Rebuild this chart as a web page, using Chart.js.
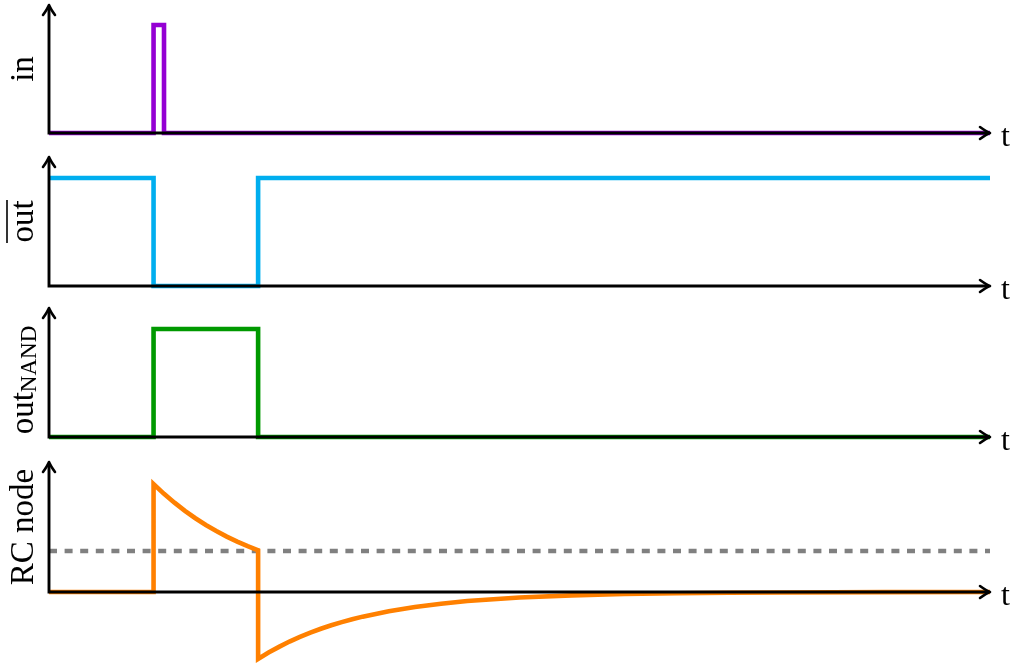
<!DOCTYPE html>
<html><head><meta charset="utf-8">
<script src="https://cdn.jsdelivr.net/npm/chart.js@4.4.0/dist/chart.umd.min.js"></script>
<style>
html,body{margin:0;padding:0;background:#fff;}
#wrap{position:relative;width:1018px;height:663px;}
canvas{position:absolute;left:0;top:0;}
</style>
</head><body><div id="wrap"></div>
<script>
// ---- data (time in arbitrary units 0..9) ----
const tMax = 9;
const tIn   = [0, 1, 1, 1.1, 1.1, 9];
const vIn   = [0, 0, 1, 1,   0,   0];
const tOut  = [0, 1, 1, 2, 2, 9];
const vOutBar = [1, 1, 0, 0, 1, 1];
const vNand   = [0, 0, 1, 1, 0, 0];
const tRC = [0, 1, 1, 1.1, 1.2, 1.3, 1.4, 1.5, 1.6, 1.7, 1.8, 1.9, 2, 2,
             2.1, 2.2, 2.3, 2.4, 2.5, 2.6, 2.7, 2.8, 2.9, 3, 3.25, 3.5, 3.75, 4,
             4.5, 5, 5.5, 6, 6.5, 7, 8, 9];
const vRC = [0, 0, 1, 0.909, 0.827, 0.751, 0.683, 0.621, 0.565, 0.513, 0.467, 0.424, 0.386, -0.62,
             -0.561, -0.508, -0.459, -0.416, -0.376, -0.340, -0.308, -0.279, -0.252, -0.228, -0.178, -0.138, -0.108, -0.084,
             -0.051, -0.031, -0.019, -0.011, -0.007, -0.004, -0.001, 0];
const tThresh = [0, 9];
const vThresh = [0.38, 0.38];

const FONT = '"Liberation Serif", "DejaVu Serif", serif';
const W = 1018, H = 663, UNIT = 108, X0 = 49, X1 = 990;

function pts(ts, vs){ return ts.map((t,i)=>({x:t, y:vs[i]})); }
function ds(ts, vs, color, extra){
  return Object.assign({data: pts(ts, vs), borderColor: color, borderWidth: 4.6, pointRadius: 0,
    tension: 0, fill: false, clip: false, borderJoinStyle: 'miter', borderCapStyle: 'butt'}, extra || {});
}

const panels = [
  {label: 'in', tipY: 5, baseY: 133, ymin: 0, datasets: [ds(tIn, vIn, 'rgb(148,0,211)')]},
  {label: 'out', over: true, tipY: 157, baseY: 286, ymin: 0, datasets: [ds(tOut, vOutBar, 'rgb(0,174,239)')]},
  {label: 'out', sub: 'NAND', tipY: 308, baseY: 437, ymin: 0, labelCenter: 380, datasets: [ds(tOut, vNand, 'rgb(0,153,0)')]},
  {label: 'RC node', tipY: 462, baseY: 592, ymin: -0.65, datasets: [
     ds(tRC, vRC, 'rgb(255,128,0)'),
     ds(tThresh, vThresh, 'rgb(128,128,128)', {borderDash: [8, 7.6]})
  ]}
];

function arrow(ctx, x, y, ang){
  ctx.save();
  ctx.translate(x, y); ctx.rotate(ang);
  ctx.beginPath();
  ctx.moveTo(-10, -6);
  ctx.quadraticCurveTo(-3.5, -1.3, 0, 0);
  ctx.quadraticCurveTo(-3.5, 1.3, -10, 6);
  ctx.lineWidth = 2.6; ctx.lineCap = 'round'; ctx.lineJoin = 'round';
  ctx.stroke();
  ctx.restore();
}

const wrap = document.getElementById('wrap');
panels.forEach((p) => {
  const cv = document.createElement('canvas');
  cv.width = W; cv.height = H;
  wrap.appendChild(cv);
  const bottom = p.baseY + UNIT * (-p.ymin);
  const axesPlugin = {
    id: 'axes',
    afterDatasetsDraw(chart){
      const ctx = chart.ctx, xs = chart.scales.x, ys = chart.scales.y;
      const x0 = xs.getPixelForValue(0), x1 = xs.getPixelForValue(tMax);
      const y0 = ys.getPixelForValue(0), yT = chart.chartArea.top;
      ctx.save();
      ctx.strokeStyle = '#000'; ctx.fillStyle = '#000';
      ctx.lineWidth = 2.9; ctx.lineJoin = 'miter'; ctx.lineCap = 'butt';
      ctx.beginPath();
      ctx.moveTo(x0, yT + 1.5); ctx.lineTo(x0, y0); ctx.lineTo(x1 - 1.5, y0);
      ctx.stroke();
      arrow(ctx, x1, y0, 0);
      arrow(ctx, x0, yT, -Math.PI/2);
      // t label
      ctx.font = '32px ' + FONT;
      ctx.textAlign = 'left'; ctx.textBaseline = 'alphabetic';
      ctx.fillText('t', 1001, y0 + 12.5);
      // y label rotated
      const cy = p.labelCenter || (yT + y0) / 2;
      ctx.translate(33, cy); ctx.rotate(-Math.PI/2);
      ctx.font = '33px ' + FONT;
      const wMain = ctx.measureText(p.label).width;
      let wSub = 0;
      if (p.sub){ ctx.font = '23px ' + FONT; wSub = ctx.measureText(p.sub).width; }
      const total = wMain + wSub;
      ctx.font = '33px ' + FONT;
      ctx.textAlign = 'left';
      ctx.fillText(p.label, -total/2, 0);
      if (p.sub){
        ctx.font = '23px ' + FONT;
        ctx.fillText(p.sub, -total/2 + wMain, 3);
      }
      if (p.over){
        ctx.lineWidth = 1.6;
        ctx.beginPath();
        ctx.moveTo(-total/2 - 0.5, -26); ctx.lineTo(total/2 + 0.5, -26);
        ctx.stroke();
      }
      ctx.restore();
    }
  };
  new Chart(cv, {
    type: 'line',
    data: {datasets: p.datasets},
    options: {
      responsive: false, animation: false, devicePixelRatio: 1,
      layout: {padding: {left: X0, right: W - X1, top: p.tipY, bottom: H - bottom}},
      scales: {
        x: {type: 'linear', min: 0, max: tMax, display: false},
        y: {type: 'linear', min: p.ymin, max: (p.baseY - p.tipY) / UNIT, display: false}
      },
      plugins: {legend: {display: false}, tooltip: {enabled: false}}
    },
    plugins: [axesPlugin]
  });
});
</script>
</body></html>
